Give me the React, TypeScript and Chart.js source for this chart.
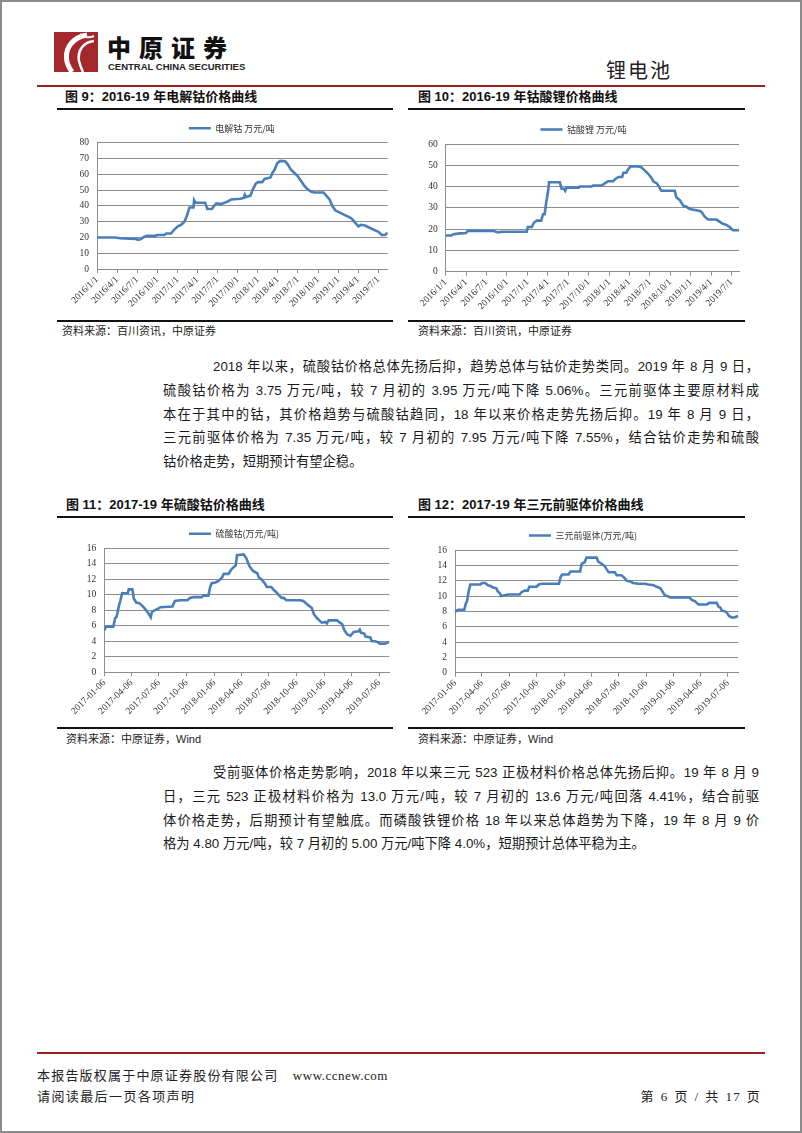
import React, { useEffect, useRef } from "react";
import { Chart, registerables } from "chart.js";

Chart.register(...registerables);

// ---------------- data ----------------
// 图 9 电解钴 (万元/吨)
const cobaltDates = [
  "2016-01-01", "2016-03-23", "2016-04-15", "2016-05-30", "2016-06-27", "2016-07-03", "2016-07-15",
  "2016-08-03", "2016-08-15", "2016-09-22", "2016-09-30", "2016-11-02", "2016-11-11", "2016-12-02",
  "2016-12-17", "2017-01-02", "2017-01-17", "2017-02-01", "2017-02-13", "2017-02-24", "2017-03-14",
  "2017-03-17", "2017-03-23", "2017-05-06", "2017-05-16", "2017-06-05", "2017-06-25", "2017-07-05",
  "2017-07-13", "2017-08-13", "2017-09-01", "2017-10-13", "2017-10-28", "2017-11-02", "2017-11-06",
  "2017-11-28", "2017-12-07", "2017-12-22", "2018-01-01", "2018-01-20", "2018-01-31", "2018-02-27",
  "2018-03-08", "2018-03-18", "2018-03-29", "2018-04-12", "2018-05-04", "2018-05-15", "2018-05-30",
  "2018-06-14", "2018-06-29", "2018-07-14", "2018-07-29", "2018-08-14", "2018-08-29", "2018-09-13",
  "2018-10-25", "2018-11-10", "2018-11-22", "2018-12-04", "2018-12-19", "2019-01-10", "2019-02-02",
  "2019-02-17", "2019-03-02", "2019-03-17", "2019-04-02", "2019-04-14", "2019-05-02", "2019-05-25",
  "2019-06-17", "2019-07-02", "2019-07-17", "2019-08-01", "2019-08-13",
];
const cobaltValues = [
  20, 20, 19.5, 19.2, 19, 18.6, 18.7,
  20.5, 21, 21, 21.5, 21.5, 22.5, 22.5,
  25, 27, 28, 30, 34, 39, 39,
  43.5, 42, 42, 38, 38, 41.5, 41.5,
  41, 42.5, 44, 44.5, 45, 47, 45.5,
  46.5, 50, 54, 55, 55, 57, 58,
  61, 63, 67, 68.5, 68.2, 66.5, 63,
  61, 59, 56, 53, 50.5, 49, 48.5,
  48.5, 46, 44, 40, 37, 35.5, 34,
  33, 32, 29.5, 27, 28, 27.5, 26,
  24.5, 23.5, 21.5, 21.5, 23,
];
const cobaltTicks = [
  "2016/1/1", "2016/4/1", "2016/7/1", "2016/10/1", "2017/1/1", "2017/4/1", "2017/7/1", "2017/10/1",
  "2018/1/1", "2018/4/1", "2018/7/1", "2018/10/1", "2019/1/1", "2019/4/1", "2019/7/1",
];

// 图 10 钴酸锂 (万元/吨)
const lcoDates = [
  "2016-01-01", "2016-01-27", "2016-02-04", "2016-03-04", "2016-04-01", "2016-04-08", "2016-08-01",
  "2016-08-11", "2016-08-23", "2016-09-07", "2016-12-28", "2017-01-02", "2017-01-20", "2017-01-29",
  "2017-02-11", "2017-03-03", "2017-03-11", "2017-03-18", "2017-03-26", "2017-04-03", "2017-04-07",
  "2017-05-25", "2017-06-02", "2017-06-13", "2017-06-18", "2017-06-24", "2017-08-18", "2017-08-22",
  "2017-10-14", "2017-10-21", "2017-11-28", "2017-12-12", "2017-12-27", "2018-01-19", "2018-01-27",
  "2018-02-11", "2018-02-28", "2018-03-05", "2018-03-18", "2018-03-26", "2018-04-06", "2018-05-10",
  "2018-05-25", "2018-06-09", "2018-06-24", "2018-07-09", "2018-07-17", "2018-08-02", "2018-08-11",
  "2018-08-22", "2018-10-21", "2018-10-28", "2018-11-13", "2018-11-28", "2018-12-12", "2018-12-27",
  "2019-01-19", "2019-02-11", "2019-02-18", "2019-03-03", "2019-03-18", "2019-04-25", "2019-05-09",
  "2019-05-24", "2019-06-08", "2019-06-23", "2019-07-08", "2019-08-04",
];
const lcoValues = [
  17, 17, 17.6, 18, 18.2, 19.2, 19.2,
  18.8, 18.5, 18.8, 18.8, 21, 21, 23,
  24, 24, 27, 27, 33, 38, 42,
  42, 39, 39, 38, 39.5, 39.5, 40,
  40, 40.5, 40.5, 41.5, 42.5, 42.5, 43.5,
  44.5, 44.5, 46.5, 46.5, 48, 49.5, 49.5,
  49, 47.5, 46, 44, 42.5, 41.5, 40,
  38, 38, 35, 33.5, 31, 30.5, 29.5,
  29, 28.5, 28, 26, 24.5, 24.5, 23.5,
  22.5, 22, 21, 19.5, 19.5,
];
const lcoTicks = cobaltTicks;

// 图 11 硫酸钴 (万元/吨)
const sulfateDates = [
  "2017-01-06", "2017-01-10", "2017-01-14", "2017-02-05", "2017-02-11", "2017-02-16", "2017-02-23",
  "2017-02-28", "2017-03-06", "2017-03-25", "2017-03-28", "2017-04-09", "2017-04-14", "2017-04-22",
  "2017-05-03", "2017-05-14", "2017-05-25", "2017-06-03", "2017-06-09", "2017-06-13", "2017-06-22",
  "2017-07-03", "2017-07-11", "2017-08-20", "2017-08-28", "2017-09-14", "2017-10-09", "2017-10-17",
  "2017-10-28", "2017-11-25", "2017-12-01", "2017-12-17", "2017-12-23", "2017-12-28", "2018-01-09",
  "2018-01-20", "2018-01-31", "2018-02-06", "2018-02-22", "2018-03-02", "2018-03-09", "2018-03-18",
  "2018-03-22", "2018-04-13", "2018-04-22", "2018-05-01", "2018-05-09", "2018-05-17", "2018-05-28",
  "2018-06-03", "2018-06-11", "2018-06-22", "2018-06-29", "2018-07-14", "2018-07-20", "2018-07-31",
  "2018-08-09", "2018-08-17", "2018-08-24", "2018-09-02", "2018-10-17", "2018-10-28", "2018-11-03",
  "2018-11-12", "2018-11-19", "2018-11-25", "2018-12-02", "2018-12-12", "2018-12-20", "2018-12-28",
  "2019-01-09", "2019-01-14", "2019-01-20", "2019-02-17", "2019-02-23", "2019-03-06", "2019-03-12",
  "2019-03-22", "2019-04-02", "2019-04-13", "2019-04-29", "2019-05-03", "2019-05-07", "2019-05-18",
  "2019-05-22", "2019-06-07", "2019-06-12", "2019-06-23", "2019-07-01", "2019-07-09", "2019-07-26",
  "2019-08-01", "2019-08-09",
];
const sulfateValues = [
  5.4, 5.8, 5.9, 5.9, 7.0, 7.2, 8.5,
  9.2, 10.2, 10.2, 10.7, 10.7, 9.5, 9.0,
  8.9, 8.5, 8.0, 7.5, 7.1, 7.8, 8.0,
  8.2, 8.4, 8.5, 9.2, 9.3, 9.3, 9.6,
  9.7, 9.7, 9.9, 9.9, 11.0, 11.5, 11.6,
  11.8, 12.2, 12.7, 12.7, 13.2, 13.5, 13.8,
  15.1, 15.2, 14.7, 13.8, 13.3, 13.0, 12.8,
  12.2, 12.0, 11.5, 11.0, 11.0, 10.7, 10.3,
  9.9, 9.6, 9.6, 9.3, 9.3, 9.2, 9.0,
  8.7, 8.5, 8.3, 7.5, 7.0, 6.7, 6.4,
  6.5, 6.3, 6.7, 6.7, 6.5, 6.2, 5.5,
  4.9, 4.7, 5.2, 5.3, 5.5, 5.1, 5.0,
  4.6, 4.5, 4.0, 4.0, 3.9, 3.7, 3.7,
  3.8, 3.9,
];
const sulfateTicks = [
  "2017-01-06", "2017-04-06", "2017-07-06", "2017-10-06", "2018-01-06", "2018-04-06",
  "2018-07-06", "2018-10-06", "2019-01-06", "2019-04-06", "2019-07-06",
];

// 图 12 三元前驱体 (万元/吨)
const precursorDates = [
  "2017-01-06", "2017-01-11", "2017-01-17", "2017-02-06", "2017-02-11", "2017-02-15", "2017-02-20",
  "2017-02-26", "2017-04-01", "2017-04-06", "2017-04-17", "2017-04-26", "2017-05-05", "2017-05-13",
  "2017-05-24", "2017-05-29", "2017-06-04", "2017-06-09", "2017-06-21", "2017-07-02", "2017-08-10",
  "2017-08-16", "2017-08-27", "2017-09-06", "2017-09-11", "2017-10-05", "2017-10-13", "2017-10-22",
  "2017-12-19", "2017-12-25", "2017-12-30", "2018-01-20", "2018-01-27", "2018-02-28", "2018-03-05",
  "2018-03-15", "2018-03-21", "2018-04-24", "2018-04-29", "2018-05-10", "2018-05-21", "2018-05-27",
  "2018-06-03", "2018-06-24", "2018-06-30", "2018-07-16", "2018-07-22", "2018-07-27", "2018-08-02",
  "2018-08-13", "2018-08-24", "2018-09-10", "2018-10-03", "2018-10-14", "2018-10-31", "2018-11-11",
  "2018-11-23", "2018-12-01", "2018-12-07", "2018-12-15", "2018-12-26", "2019-02-26", "2019-03-03",
  "2019-03-08", "2019-03-19", "2019-03-24", "2019-03-30", "2019-04-27", "2019-05-05", "2019-05-30",
  "2019-06-05", "2019-06-11", "2019-06-16", "2019-06-27", "2019-07-03", "2019-07-10", "2019-07-19",
  "2019-07-28", "2019-08-03", "2019-08-10",
];
const precursorValues = [
  7.9, 8.1, 8.2, 8.2, 9.0, 9.3, 10.5,
  11.5, 11.5, 11.7, 11.7, 11.4, 11.3, 11.1,
  11.0, 10.6, 10.4, 10.0, 10.1, 10.2, 10.2,
  10.5, 10.7, 10.7, 11.2, 11.2, 11.5, 11.6,
  11.6, 12.5, 12.8, 12.8, 13.2, 13.2, 14.2,
  14.4, 15.0, 15.0, 14.5, 14.2, 13.9, 13.5,
  13.1, 13.1, 12.7, 12.7, 12.5, 12.3, 12.0,
  11.9, 11.7, 11.6, 11.6, 11.5, 11.4, 11.2,
  11.0, 10.5, 10.1, 10.0, 9.8, 9.8, 9.7,
  9.5, 9.3, 9.1, 8.9, 8.9, 9.1, 9.1,
  8.6, 8.5, 8.1, 8.0, 7.8, 7.4, 7.2,
  7.2, 7.3, 7.4,
];
const precursorTicks = sulfateTicks;

// ---------------- styles ----------------
const BLUE = "#4a7ebb";
const GRID = "#8e8e8e";
const CJK = "'Noto Sans CJK SC', sans-serif";
const BODY = "'Liberation Sans', 'Noto Sans CJK SC', sans-serif";
const SERIF = "'Liberation Serif', 'Noto Sans CJK SC', serif";

const dayNum = (s: string) => {
  const [y, m, d] = s.split(/[-\/]/).map(Number);
  return Date.UTC(y, m - 1, d) / 86400000;
};

type ChartProps = {
  dates: string[];
  values: number[];
  ticks: string[];
  legend: string;
  yMax: number;
  yStep: number;
  left: number;
  top: number;
  width: number;
  height: number;
  padLeft: number;
  padRight: number;
  yWidth: number;
  plotTop: number;
  xHeight: number;
};

function PriceChart(p: ChartProps) {
  const ref = useRef<HTMLCanvasElement>(null);
  useEffect(() => {
    const base = dayNum(p.dates[0]);
    const points = p.dates.map((d, i) => ({ x: dayNum(d) - base, y: p.values[i] }));
    const tickVals = p.ticks.map((t) => dayNum(t) - base);
    const chart = new Chart(ref.current as HTMLCanvasElement, {
      type: "line",
      data: {
        datasets: [
          {
            label: p.legend,
            data: points,
            borderColor: BLUE,
            backgroundColor: BLUE,
            borderWidth: 2.6,
            pointRadius: 0,
            tension: 0,
            fill: false,
          },
        ],
      },
      options: {
        responsive: false,
        animation: false,
        events: [],
        layout: { padding: { top: 0, left: p.padLeft, right: p.padRight, bottom: 0 } },
        plugins: {
          tooltip: { enabled: false },
          legend: {
            display: true,
            position: "top",
            labels: {
              usePointStyle: true,
              pointStyle: "line",
              pointStyleWidth: 22,
              padding: 8,
              color: "#333",
              font: { size: 9, family: CJK },
            },
          },
        },
        scales: {
          x: {
            type: "linear",
            min: 0,
            max: points[points.length - 1].x,
            afterBuildTicks: (s: any) => {
              s.ticks = tickVals.map((v) => ({ value: v }));
            },
            afterFit: (s: any) => {
              s.height = p.xHeight;
            },
            ticks: {
              autoSkip: false,
              minRotation: 45,
              maxRotation: 45,
              padding: 1,
              color: "#333",
              font: { size: 9.5, family: SERIF },
              callback: (_v: any, i: number) => p.ticks[i],
            },
            grid: { drawOnChartArea: false, drawTicks: true, tickLength: 4, color: GRID },
            border: { display: true, color: GRID },
          },
          y: {
            min: 0,
            max: p.yMax,
            afterFit: (s: any) => {
              s.width = p.yWidth;
              s.paddingTop = Math.max(s.paddingTop, p.plotTop);
            },
            ticks: {
              stepSize: p.yStep,
              padding: 8,
              color: "#333",
              font: { size: 9.5, family: SERIF },
            },
            grid: { color: GRID, drawTicks: false, lineWidth: 1 },
            border: { display: true, color: GRID },
          },
        },
      },
    } as any);
    return () => chart.destroy();
  }, []);
  return (
    <canvas
      ref={ref}
      width={p.width}
      height={p.height}
      style={{ position: "absolute", left: p.left, top: p.top, width: p.width, height: p.height }}
    />
  );
}

const abs = (left: number, top: number, extra: React.CSSProperties = {}): React.CSSProperties => ({
  position: "absolute",
  left,
  top,
  ...extra,
});

const rule = (left: number, top: number, width: number, height: number, color: string) => (
  <div style={abs(left, top, { width, height, background: color })} />
);

const titleStyle: React.CSSProperties = {
  fontFamily: BODY,
  fontWeight: 700,
  fontSize: 13,
  lineHeight: "16px",
  color: "#111",
  whiteSpace: "nowrap",
};
const sourceStyle: React.CSSProperties = {
  fontFamily: BODY,
  fontSize: 11,
  lineHeight: "14px",
  color: "#222",
  whiteSpace: "nowrap",
};

const para1 = [
  "2018 年以来，硫酸钴价格总体先扬后抑，趋势总体与钴价走势类同。2019 年 8 月 9 日，",
  "硫酸钴价格为 3.75 万元/吨，较 7 月初的 3.95 万元/吨下降 5.06%。三元前驱体主要原材料成",
  "本在于其中的钴，其价格趋势与硫酸钴趋同，18 年以来价格走势先扬后抑。19 年 8 月 9 日，",
  "三元前驱体价格为 7.35 万元/吨，较 7 月初的 7.95 万元/吨下降 7.55%，结合钴价走势和硫酸",
  "钴价格走势，短期预计有望企稳。",
];
const para2 = [
  "受前驱体价格走势影响，2018 年以来三元 523 正极材料价格总体先扬后抑。19 年 8 月 9",
  "日，三元 523 正极材料价格为 13.0 万元/吨，较 7 月初的 13.6 万元/吨回落 4.41%，结合前驱",
  "体价格走势，后期预计有望触底。而磷酸铁锂价格 18 年以来总体趋势为下降，19 年 8 月 9 价",
  "格为 4.80 万元/吨，较 7 月初的 5.00 万元/吨下降 4.0%，短期预计总体平稳为主。",
];

function Paragraph({ lines, top }: { lines: string[]; top: number }) {
  return (
    <div style={abs(163, top, { width: 596 })}>
      {lines.map((l, i) => {
        const last = i === lines.length - 1;
        return (
          <div
            key={i}
            style={{
              fontFamily: BODY,
              fontSize: 13.3,
              lineHeight: "23.75px",
              height: 23.75,
              color: "#1a1a1a",
              paddingLeft: i === 0 ? 50 : 0,
              textAlign: last ? "left" : "justify",
              textAlignLast: last ? "left" : "justify",
              overflow: "visible",
            } as React.CSSProperties}
          >
            {l}
          </div>
        );
      })}
    </div>
  );
}

export default function App() {
  return (
    <div
      style={{
        position: "absolute",
        left: 0,
        top: 0,
        width: 802,
        height: 1133,
        background: "#fff",
        overflow: "hidden",
      }}
    >
      {/* header logo */}
      <svg style={abs(54, 32)} width={44} height={40} viewBox="0 0 44 40">
        <rect x={0} y={0} width={44} height={40} fill="#a3282b" />
        <path d="M33 3 C20 5 10 15 13 30 C14 34 16 37 18 40" stroke="#fff" strokeWidth={5} fill="none" />
        <path d="M40 9 C30 10 23 18 25 29 C26 33 27 36 29 40" stroke="#fff" strokeWidth={2.5} fill="none" />
        <path d="M26 2 C30 6 36 6 40 4" stroke="#fff" strokeWidth={2} fill="none" />
      </svg>
      <div
        style={abs(107, 35, {
          fontFamily: CJK,
          fontWeight: 900,
          fontSize: 24,
          lineHeight: "24px",
          letterSpacing: 8,
          color: "#111",
          whiteSpace: "nowrap",
        })}
      >
        中原证券
      </div>
      <div
        style={abs(108, 62, {
          fontFamily: "'Liberation Sans Narrow', 'Liberation Sans', sans-serif",
          fontWeight: 700,
          fontSize: 9.5,
          lineHeight: "10px",
          color: "#222",
          whiteSpace: "nowrap",
        })}
      >
        CENTRAL CHINA SECURITIES
      </div>
      <div
        style={abs(606, 58, {
          fontFamily: CJK,
          fontSize: 20,
          lineHeight: "24px",
          letterSpacing: 2,
          color: "#222",
          whiteSpace: "nowrap",
        })}
      >
        锂电池
      </div>
      {rule(37, 85, 728, 2, "#9c1f23")}

      {/* chart titles row 1 */}
      <div style={abs(65, 89, titleStyle)}>图 9：2016-19 年电解钴价格曲线</div>
      <div style={abs(418, 89, titleStyle)}>图 10：2016-19 年钴酸锂价格曲线</div>
      {rule(57, 108, 336, 2, "#111")}
      {rule(408, 108, 337, 2, "#111")}

      <PriceChart
        dates={cobaltDates}
        values={cobaltValues}
        ticks={cobaltTicks}
        legend="电解钴 万元/吨"
        yMax={80}
        yStep={10}
        left={57}
        top={112}
        width={340}
        height={200}
        padLeft={19}
        padRight={9.3}
        yWidth={21}
        plotTop={30.7}
        xHeight={43}
      />
      <PriceChart
        dates={lcoDates}
        values={lcoValues}
        ticks={lcoTicks}
        legend="钴酸锂 万元/吨"
        yMax={60}
        yStep={10}
        left={408}
        top={112}
        width={340}
        height={200}
        padLeft={20}
        padRight={9}
        yWidth={17.7}
        plotTop={32}
        xHeight={40.3}
      />

      {rule(57, 320, 336, 2, "#111")}
      {rule(408, 320, 337, 2, "#111")}
      <div style={abs(62, 324, sourceStyle)}>资料来源：百川资讯，中原证券</div>
      <div style={abs(418, 324, sourceStyle)}>资料来源：百川资讯，中原证券</div>

      <Paragraph lines={para1} top={355} />

      {/* chart titles row 2 */}
      <div style={abs(66, 497, titleStyle)}>图 11：2017-19 年硫酸钴价格曲线</div>
      <div style={abs(418, 497, titleStyle)}>图 12：2017-19 年三元前驱体价格曲线</div>
      {rule(57, 516, 336, 2, "#111")}
      {rule(408, 516, 337, 2, "#111")}

      <PriceChart
        dates={sulfateDates}
        values={sulfateValues}
        ticks={sulfateTicks}
        legend="硫酸钴(万元/吨)"
        yMax={16}
        yStep={2}
        left={57}
        top={517}
        width={340}
        height={205}
        padLeft={21.7}
        padRight={7.7}
        yWidth={25.6}
        plotTop={31.3}
        xHeight={49.7}
      />
      <PriceChart
        dates={precursorDates}
        values={precursorValues}
        ticks={precursorTicks}
        legend="三元前驱体(万元/吨)"
        yMax={16}
        yStep={2}
        left={408}
        top={518}
        width={340}
        height={204}
        padLeft={19.7}
        padRight={9.7}
        yWidth={27.3}
        plotTop={32}
        xHeight={49.3}
      />

      {rule(57, 727, 336, 2, "#111")}
      {rule(408, 727, 337, 2, "#111")}
      <div style={abs(66, 732, sourceStyle)}>资料来源：中原证券，Wind</div>
      <div style={abs(418, 732, sourceStyle)}>资料来源：中原证券，Wind</div>

      <Paragraph lines={para2} top={761} />

      {/* footer */}
      {rule(37, 1052, 728, 2, "#9c1f23")}
      <div
        style={abs(37, 1068, {
          fontFamily: SERIF,
          fontSize: 13,
          lineHeight: "16px",
          letterSpacing: 1.2,
          color: "#222",
          whiteSpace: "nowrap",
        })}
      >
        本报告版权属于中原证券股份有限公司 <span style={{ marginLeft: 10, letterSpacing: 0.5 }}>www.ccnew.com</span>
      </div>
      <div
        style={abs(37, 1089, {
          fontFamily: SERIF,
          fontSize: 13,
          lineHeight: "16px",
          letterSpacing: 1.4,
          color: "#222",
          whiteSpace: "nowrap",
        })}
      >
        请阅读最后一页各项声明
      </div>
      <div
        style={{
          position: "absolute",
          right: 41,
          top: 1089,
          fontFamily: SERIF,
          fontSize: 13,
          lineHeight: "16px",
          letterSpacing: 1.2,
          wordSpacing: 1.5,
          color: "#222",
          whiteSpace: "nowrap",
        }}
      >
        第 6 页 / 共 17 页
      </div>

      {/* page border */}
      <div
        style={{
          position: "absolute",
          left: 0,
          top: 0,
          width: 802,
          height: 1133,
          boxSizing: "border-box",
          border: "2px solid #8c8c8c",
          pointerEvents: "none",
        }}
      />
    </div>
  );
}
